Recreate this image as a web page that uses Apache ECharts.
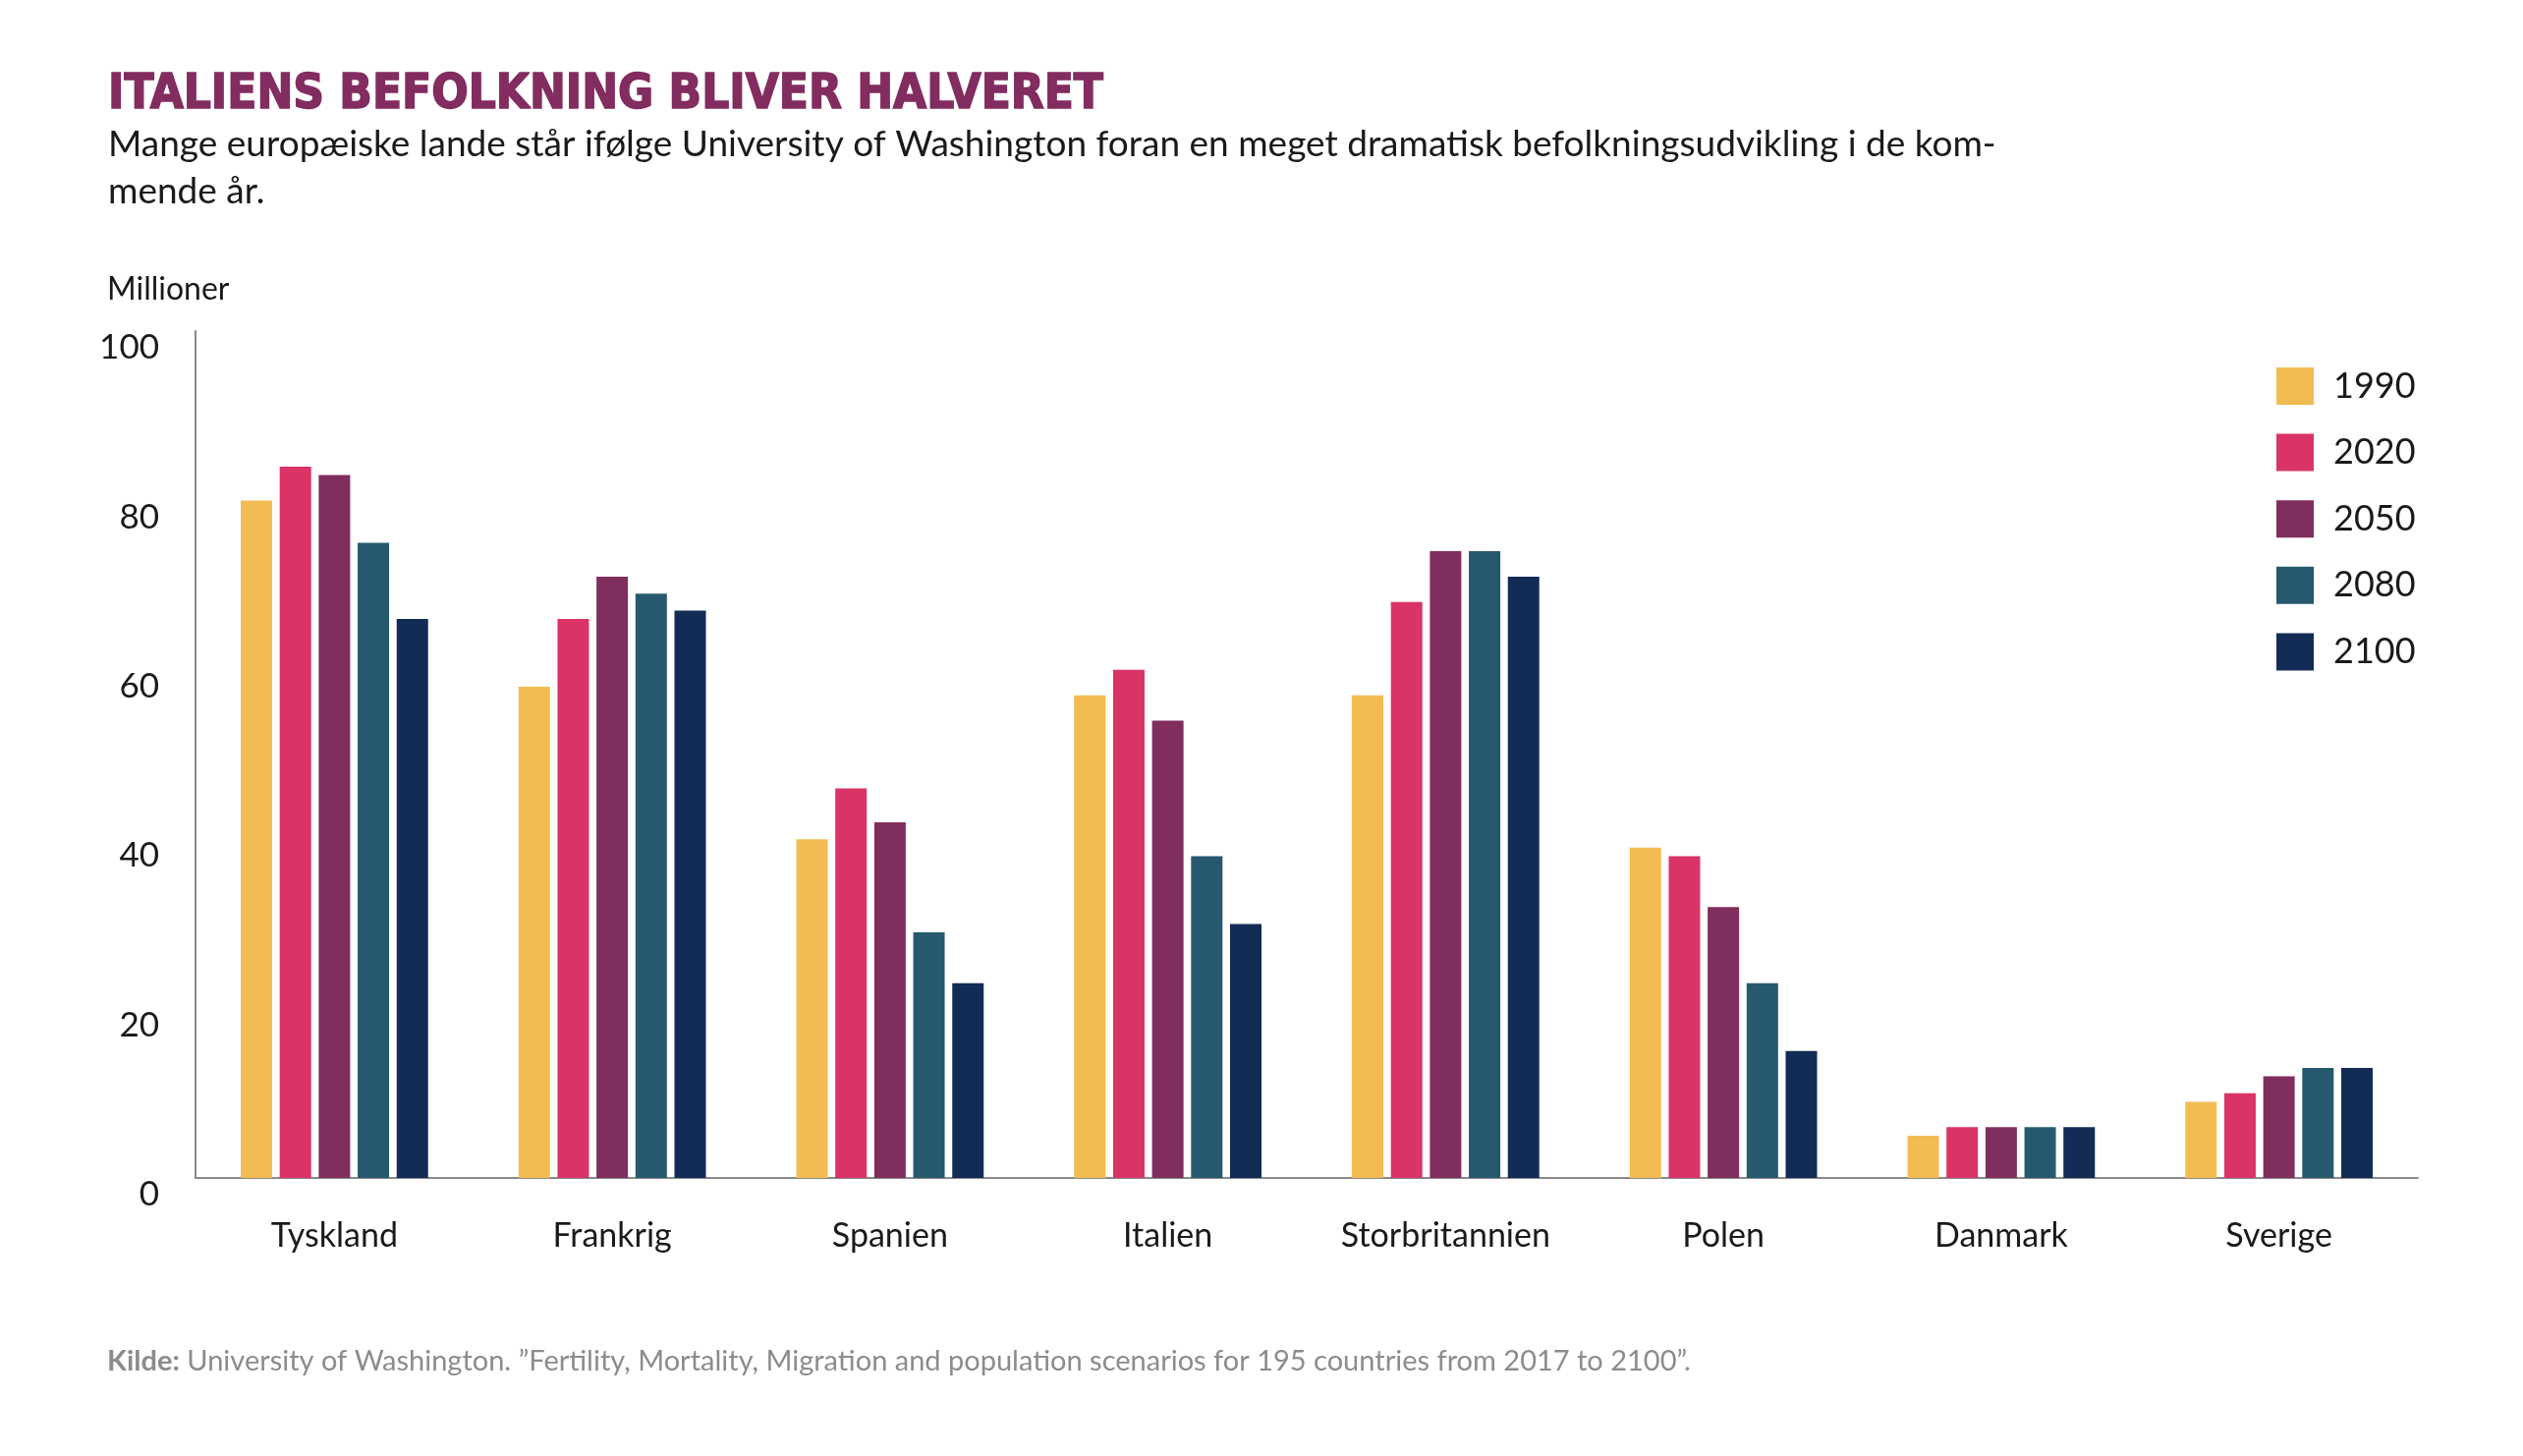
<!DOCTYPE html>
<html><head><meta charset="utf-8">
<script src="https://cdn.jsdelivr.net/npm/echarts@6/dist/echarts.min.js"></script>
<style>html,body{margin:0;padding:0;background:#fff}#c{width:2568px;height:1482px}</style>
</head><body><div id="c"></div>
<script>
const categories = ['Tyskland','Frankrig','Spanien','Italien','Storbritannien','Polen','Danmark','Sverige'];
const years = ['1990','2020','2050','2080','2100'];
const v1990 = [80, 58, 40, 57, 57, 39, 5, 9];
const v2020 = [84, 66, 46, 60, 68, 38, 6, 10];
const v2050 = [83, 71, 42, 54, 74, 32, 6, 12];
const v2080 = [75, 69, 29, 38, 74, 23, 6, 13];
const v2100 = [66, 67, 23, 30, 71, 15, 6, 13];
const yTicks = [0, 20, 40, 60, 80, 100];
const colors = ['#F2BC52','#DA3366','#7F2E5E','#26596E','#132C55'];
const seriesValues = [v1990, v2020, v2050, v2080, v2100];

const font = 'Lato, "Noto Sans", sans-serif';
const chart = echarts.init(document.getElementById('c'));
chart.setOption({
  animation: false,
  backgroundColor: '#fff',
  title: [
    {text: 'ITALIENS BEFOLKNING BLIVER HALVERET', left: 110, top: 70, padding: 0,
     textStyle: {fontFamily: '"DejaVu Sans Condensed",sans-serif', fontWeight: 'bold', fontSize: 49, lineHeight: 54, color: '#822C60',
       textBorderColor: '#822C60', textBorderWidth: 1.5}},
    {text: 'Mange europæiske lande står ifølge University of Washington foran en meget dramatisk befolkningsudvikling i de kom-\nmende år.', left: 110, top: 123, padding: 0,
     textStyle: {fontFamily: font, fontWeight: 'normal', fontSize: 37, lineHeight: 48, color: '#1a1a1a'}},
    {text: 'Millioner', left: 109, top: 275, padding: 0,
     textStyle: {fontFamily: font, fontWeight: 'normal', fontSize: 32, lineHeight: 40, color: '#1a1a1a'}},
    {text: '{b|Kilde:} University of Washington. ”Fertility, Mortality, Migration and population scenarios for 195 countries from 2017 to 2100”.', left: 109, top: 1368, padding: 0,
     textStyle: {fontFamily: font, fontWeight: 'normal', fontSize: 29, lineHeight: 36, color: '#8c8c8c',
       rich: {b: {fontFamily: font, fontWeight: 'bold', fontSize: 29, color: '#8c8c8c'}}}}
  ],
  legend: {
    orient: 'vertical', left: 2317, top: 374, padding: 0, itemWidth: 38, itemHeight: 38, itemGap: 29.6,
    icon: 'rect', data: years,
    textStyle: {fontFamily: font, fontSize: 36, color: '#1a1a1a', padding: [0,0,0,15]}
  },
  grid: {left: 199, right: 107, top: 337, bottom: 283, containLabel: false},
  xAxis: {
    type: 'category', data: categories,
    axisLine: {lineStyle: {color: '#8a8a8a', width: 2}},
    axisTick: {show: false},
    axisLabel: {fontFamily: font, fontSize: 34, color: '#1a1a1a', margin: 42}
  },
  yAxis: {
    type: 'value', min: yTicks[0], max: yTicks[yTicks.length-1], interval: 20,
    axisLine: {show: true, lineStyle: {color: '#8a8a8a', width: 2}},
    axisTick: {show: false},
    splitLine: {show: false},
    axisLabel: {fontFamily: font, fontSize: 35, color: '#1a1a1a', margin: 37, verticalAlign: 'top', lineHeight: 34}
  },
  series: years.map((y, i) => ({
    name: y, type: 'bar', data: seriesValues[i], barWidth: 32, barGap: '24%',
    itemStyle: {color: colors[i]}
  }))
});
</script></body></html>
